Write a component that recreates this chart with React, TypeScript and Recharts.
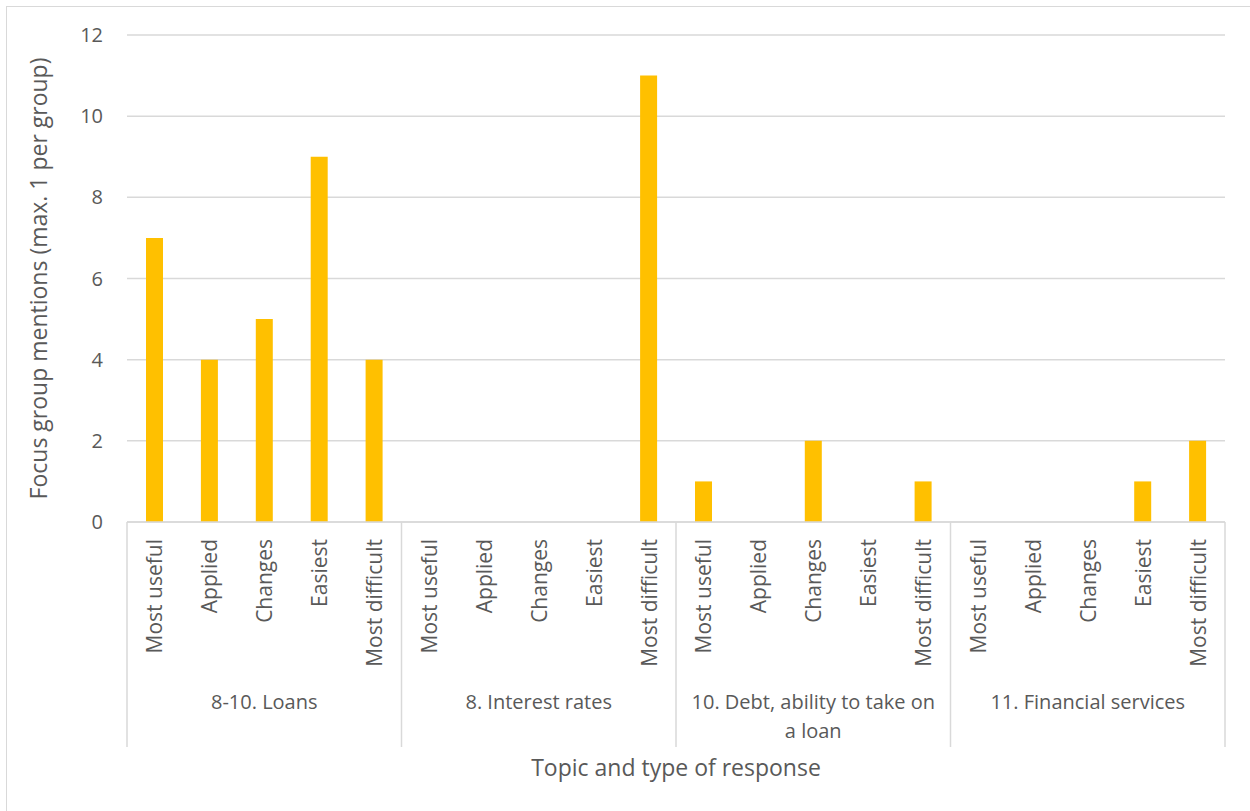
import { BarChart, Bar, XAxis, YAxis, CartesianGrid, Label } from 'recharts';

// Topics (outer axis level) and response types (inner axis level)
const topics = [
  ['8-10. Loans'],
  ['8. Interest rates'],
  ['10. Debt, ability to take on', 'a loan'],
  ['11. Financial services'],
];
const responses = ['Most useful', 'Applied', 'Changes', 'Easiest', 'Most difficult'];

// Mentions per response type, one list per topic
const loans = [7, 4, 5, 9, 4];
const interestRates = [0, 0, 0, 0, 11];
const debt = [1, 0, 2, 0, 1];
const financialServices = [0, 0, 0, 1, 2];

const yTicks = [0, 2, 4, 6, 8, 10, 12];

const seriesByTopic = [loans, interestRates, debt, financialServices];

const rows = seriesByTopic.flatMap((values, t) =>
  values.map((v, r) => ({
    id: `${t}-${r}`,
    topic: t,
    response: responses[r],
    value: v,
  }))
);

const TEXT = '#595959';
const LINE = '#d9d9d9';
const FONT = '"Open Sans", sans-serif';
const GROUP_SIZE = responses.length;

// Two-level category tick: rotated response name, plus topic label and separators
const CategoryTick = (props: any) => {
  const { x, y, payload, index } = props;
  const half = payload?.offset ?? 27.45;
  const row = rows[index];
  const pos = index % GROUP_SIZE;
  const lineBottom = y + 225;
  const out: any[] = [];

  out.push(
    <text
      key="r"
      x={x}
      y={y + 17}
      transform={`rotate(-90, ${x}, ${y + 17})`}
      textAnchor="end"
      dominantBaseline="central"
      fill={TEXT}
      fontSize={21}
      fontFamily={FONT}
    >
      {row.response}
    </text>
  );

  if (pos === 0) {
    out.push(<line key="l" x1={x - half} x2={x - half} y1={y} y2={lineBottom} stroke={LINE} strokeWidth={1.5} />);
  }
  if (index === rows.length - 1) {
    out.push(<line key="rr" x1={x + half} x2={x + half} y1={y} y2={lineBottom} stroke={LINE} strokeWidth={1.5} />);
  }
  if (pos === 2) {
    const lines = topics[row.topic];
    out.push(
      <text key="g" x={x} y={y + 187} textAnchor="middle" fill={TEXT} fontSize={20} fontFamily={FONT}>
        {lines.map((ln, i) => (
          <tspan key={i} x={x} dy={i === 0 ? 0 : 29}>
            {ln}
          </tspan>
        ))}
      </text>
    );
  }
  return <g>{out}</g>;
};

export default function App() {
  return (
    <div
      style={{
        position: 'absolute',
        left: 0,
        top: 0,
        width: 1250,
        height: 811,
        overflow: 'hidden',
        background: '#fff',
      }}
    >
      <div
        style={{
          position: 'absolute',
          left: 6,
          top: 6,
          width: 1300,
          height: 900,
          border: `1.5px solid ${LINE}`,
        }}
      />
      <div style={{ position: 'absolute', left: 0, top: 0 }}>
        <BarChart
          width={1250}
          height={811}
          data={rows}
          margin={{ top: 35, right: 25, left: 67, bottom: 59 }}
          barCategoryGap={0}
        >
          <CartesianGrid vertical={false} stroke={LINE} strokeWidth={1.5} />
          <XAxis
            dataKey="id"
            height={230}
            interval={0}
            tickLine={false}
            tickSize={0}
            tickMargin={0}
            axisLine={{ stroke: LINE, strokeWidth: 1.5 }}
            tick={<CategoryTick />}
          >
            <Label
              content={({ viewBox }: any) => (
                <text
                  x={viewBox.x + viewBox.width / 2}
                  y={776}
                  textAnchor="middle"
                  fill={TEXT}
                  fontSize={23}
                  fontFamily={FONT}
                >
                  Topic and type of response
                </text>
              )}
            />
          </XAxis>
          <YAxis
            width={60}
            domain={[0, 12]}
            ticks={yTicks}
            axisLine={false}
            tickLine={false}
            tickSize={6}
            tickMargin={18}
            tick={{ fill: TEXT, fontSize: 20, fontFamily: FONT }}
          >
            <Label
              content={({ viewBox }: any) => {
                const cx = 38;
                const cy = viewBox.y + viewBox.height / 2;
                return (
                  <text
                    x={cx}
                    y={cy}
                    transform={`rotate(-90, ${cx}, ${cy})`}
                    textAnchor="middle"
                    dominantBaseline="central"
                    fill={TEXT}
                    fontSize={23}
                    fontFamily={FONT}
                  >
                    Focus group mentions (max. 1 per group)
                  </text>
                );
              }}
            />
          </YAxis>
          <Bar dataKey="value" fill="#FFC000" barSize={17} isAnimationActive={false} />
        </BarChart>
      </div>
    </div>
  );
}
